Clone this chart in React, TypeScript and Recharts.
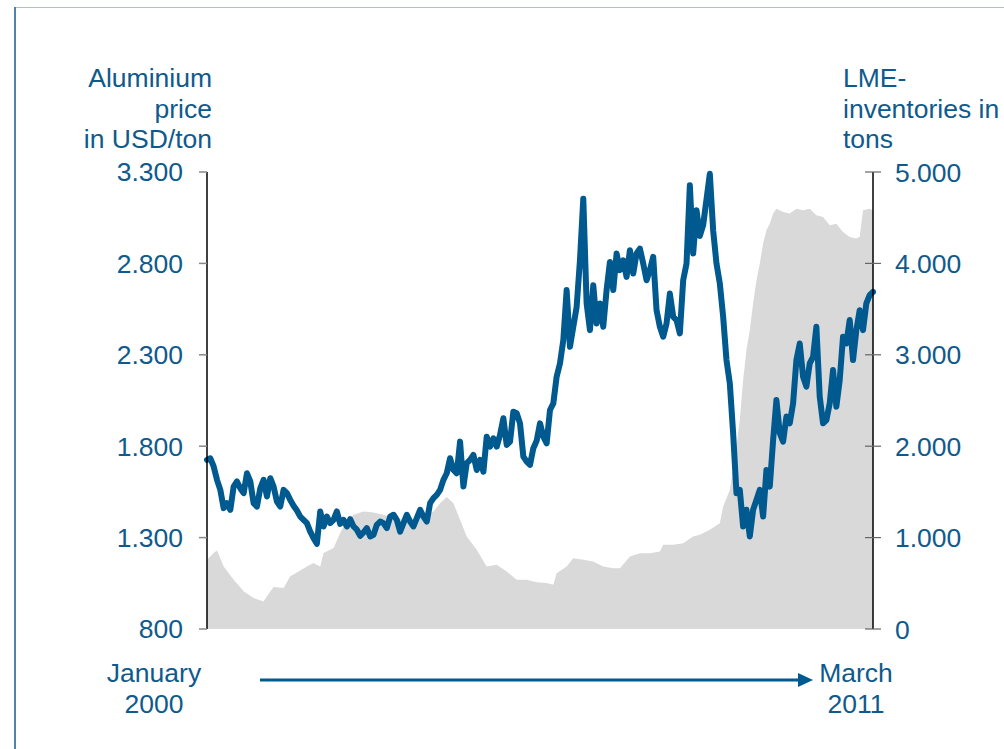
import React from 'react';
import { ComposedChart, Line, Area, XAxis, YAxis } from 'recharts';

// Aluminium price in USD/ton, sampled at equal steps from January 2000 (step 0) to March 2011 (step 200)
const priceValues: number[] = [
  1725, 1734, 1689, 1616, 1561, 1461, 1488, 1452, 1579, 1607,
  1570, 1543, 1652, 1607, 1488, 1470, 1570, 1616, 1525, 1625,
  1579, 1497, 1470, 1561, 1543, 1506, 1474, 1448, 1415, 1397,
  1379, 1333, 1297, 1266, 1443, 1361, 1415, 1379, 1397, 1443,
  1375, 1397, 1361, 1401, 1361, 1343, 1310, 1328, 1352, 1306,
  1315, 1370, 1388, 1379, 1352, 1415, 1425, 1397, 1333, 1379,
  1425, 1388, 1361, 1406, 1452, 1415, 1388, 1488, 1516, 1534,
  1561, 1616, 1652, 1734, 1670, 1652, 1825, 1579, 1707, 1725,
  1752, 1670, 1725, 1661, 1852, 1798, 1843, 1798, 1862, 1953,
  1807, 1825, 1989, 1980, 1925, 1743, 1716, 1698, 1789, 1830,
  1925, 1852, 1816, 1998, 2034, 2180, 2253, 2380, 2654, 2344,
  2453, 2562, 2817, 3154, 2581, 2435, 2681, 2471, 2581, 2453,
  2654, 2808, 2654, 2854, 2763, 2817, 2726, 2872, 2745, 2854,
  2881, 2799, 2708, 2763, 2836, 2544, 2453, 2399, 2471, 2635,
  2508, 2490, 2417, 2708, 2799, 3227, 2854, 3091, 2950, 3010,
  3150, 3290, 2980, 2799, 2690, 2508, 2271, 2144, 1871, 1543,
  1561, 1361, 1452, 1306, 1452, 1506, 1561, 1415, 1670, 1579,
  1832, 2053, 1871, 1825, 1962, 1925, 2034, 2271, 2362, 2180,
  2126, 2253, 2289, 2453, 2071, 1925, 1943, 2034, 2217, 2016,
  2162, 2399, 2362, 2490, 2271, 2435, 2544, 2435, 2581, 2626,
  2644,
];

// LME inventories in tons, read at these steps
const inventorySteps: number[] = [
  0, 2, 3, 5, 8, 11, 14, 17, 18, 20, 23, 25, 27, 30, 32, 34, 35, 38, 40, 42,
  44, 47, 50, 53, 56, 59, 62, 65, 68, 70, 72, 74, 76, 78, 81, 84, 87, 90, 93, 96,
  99, 102, 104, 105, 108, 110, 113, 116, 119, 122, 124, 127, 130, 133, 136, 137, 140, 143, 146, 148,
  151, 154, 155, 157, 159, 160, 161, 162, 163, 164, 165, 166, 167, 168, 169, 170, 171, 173, 175, 177,
  179, 181, 183, 185, 187, 189, 191, 193, 195, 196, 197, 199, 200,
];
const inventoryValues: number[] = [
  758, 831, 860, 685, 539, 412, 339, 302, 357, 459, 448, 576, 619, 685, 721, 685, 831, 885, 1049, 1195,
  1250, 1286, 1275, 1250, 1213, 1195, 1195, 1231, 1286, 1377, 1443, 1377, 1195, 1013, 867, 685, 703, 630, 539, 539,
  512, 502, 484, 611, 684, 775, 757, 739, 684, 666, 666, 793, 830, 830, 848, 921, 921, 939, 1012, 1030,
  1085, 1158, 1340, 1522, 1995, 2287, 2724, 3052, 3270, 3561, 3816, 3998, 4217, 4363, 4435, 4545, 4599, 4563, 4545, 4599,
  4581, 4599, 4527, 4508, 4417, 4435, 4344, 4290, 4272, 4290, 4581, 4599, 4581,
];

const leftTicks = [800, 1300, 1800, 2300, 2800, 3300];
const rightTicks = [0, 1000, 2000, 3000, 4000, 5000];
const leftTitle = ['Aluminium', 'price', 'in USD/ton'];
const rightTitle = ['LME-', 'inventories in', 'tons'];
const startLabel = ['January', '2000'];
const endLabel = ['March', '2011'];

const invMap: Record<number, number> = {};
inventorySteps.forEach((s, k) => { invMap[s] = inventoryValues[k]; });
const data = priceValues.map((p, i) => ({
  step: i,
  price: p,
  inventory: invMap[i] !== undefined ? invMap[i] : null,
}));

const BLUE = '#0f5a8c';
const LINE = '#00598f';
const FONT = '"Liberation Sans", Arial, sans-serif';
const FS = 26.5;

const fmt = (v: number) => v.toLocaleString('de-DE');

const RightTick = (props: any) => {
  const { x, y, payload } = props;
  return (
    <g>
      <line x1={x - 30} x2={x - 14} y1={y} y2={y} stroke="#666" strokeWidth={1.2} />
      <text x={x} y={y} dy="0.36em" textAnchor="start" fill={BLUE} fontSize={FS} fontFamily={FONT}>
        {fmt(payload.value)}
      </text>
    </g>
  );
};

export default function App() {
  return (
    <div style={{ position: 'absolute', left: 0, top: 0, width: 1004, height: 749, background: '#fff', fontFamily: FONT }}>
      <div style={{ position: 'absolute', left: 14, top: 7, width: 990, height: 1, background: '#a9c1d5' }} />
      <div style={{ position: 'absolute', left: 14, top: 7, width: 1.5, height: 742, background: '#4f82ad' }} />
      <ComposedChart
        width={1004}
        height={749}
        data={data}
        margin={{ top: 172, right: 0, bottom: 120, left: 0 }}
        style={{ position: 'absolute', left: 0, top: 0 }}
      >
        <XAxis dataKey="step" type="number" domain={[0, 200]} hide />
        <YAxis
          yAxisId="left"
          orientation="left"
          width={207}
          domain={[800, 3300]}
          ticks={leftTicks}
          interval={0}
          tickFormatter={fmt}
          axisLine={{ stroke: '#000', strokeWidth: 1.5 }}
          tickLine={{ stroke: '#888', strokeWidth: 1.5 }}
          tickSize={8}
          tickMargin={16}
          tick={{ fill: BLUE, fontSize: FS, fontFamily: FONT }}
        />
        <YAxis
          yAxisId="right"
          orientation="right"
          width={131}
          domain={[0, 5000]}
          ticks={rightTicks}
          interval={0}
          axisLine={{ stroke: '#000', strokeWidth: 1.5 }}
          tickLine={false}
          tickSize={8}
          tickMargin={14}
          tick={<RightTick />}
        />
        <Area
          yAxisId="right"
          dataKey="inventory"
          type="linear"
          connectNulls
          stroke="none"
          fill="#d9d9d9"
          fillOpacity={1}
          isAnimationActive={false}
        />
        <Line
          yAxisId="left"
          dataKey="price"
          type="linear"
          stroke={LINE}
          strokeWidth={6}
          strokeLinejoin="round"
          strokeLinecap="round"
          dot={false}
          activeDot={false}
          isAnimationActive={false}
        />
      </ComposedChart>
      <svg width={1004} height={749} style={{ position: 'absolute', left: 0, top: 0, pointerEvents: 'none' }}>
        <g fontFamily={FONT} fontSize={FS} fill={BLUE}>
          {leftTitle.map((t, k) => (
            <text key={t} x={212} y={87 + k * 30.5} textAnchor="end">{t}</text>
          ))}
          {rightTitle.map((t, k) => (
            <text key={t} x={843} y={87 + k * 30.5} textAnchor="start">{t}</text>
          ))}
          {startLabel.map((t, k) => (
            <text key={t} x={154} y={682 + k * 31} textAnchor="middle">{t}</text>
          ))}
          {endLabel.map((t, k) => (
            <text key={t} x={856} y={682 + k * 31} textAnchor="middle">{t}</text>
          ))}
        </g>
        <line x1={260} x2={800} y1={680} y2={680} stroke={LINE} strokeWidth={3} />
        <polygon points="798,673 813,680 798,687" fill={LINE} />
      </svg>
    </div>
  );
}
